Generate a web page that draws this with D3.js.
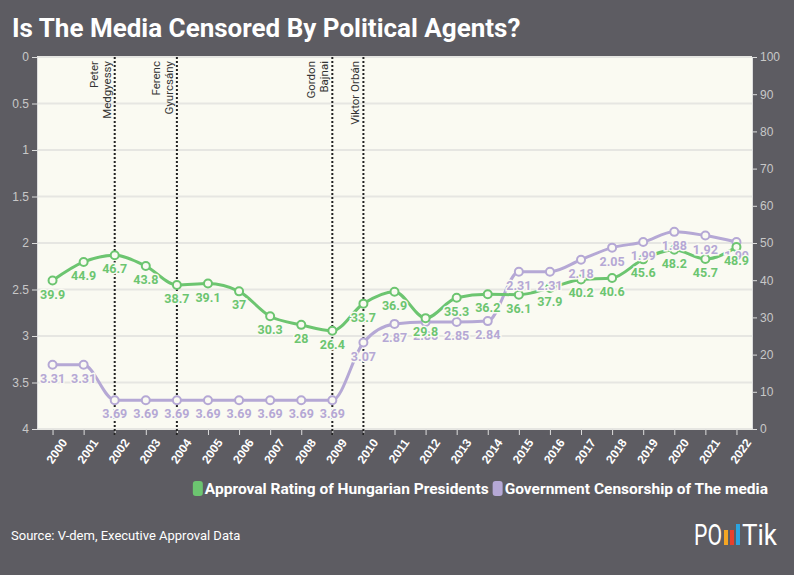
<!DOCTYPE html>
<html><head><meta charset="utf-8">
<script src="https://cdn.jsdelivr.net/npm/d3@7"></script>
<style>body{margin:0;background:#5d5c62;}svg{display:block;font-family:"Liberation Sans Narrow","Roboto","Open Sans",sans-serif;}</style>
</head><body><svg id="c" width="794" height="575"></svg>
<script>
const years = d3.range(2000, 2023).map(String);
const approval = [39.9,44.9,46.7,43.8,38.7,39.1,37,30.3,28,26.4,33.7,36.9,29.8,35.3,36.2,36.1,37.9,40.2,40.6,45.6,48.2,45.7,48.9];
const censorship = [3.31,3.31,3.69,3.69,3.69,3.69,3.69,3.69,3.69,3.69,3.07,2.87,2.85,2.85,2.84,2.31,2.31,2.18,2.05,1.99,1.88,1.92,1.99];
const leaders = [{year:"2002",name:["Peter","Medgyessy"]},{year:"2004",name:["Ferenc","Gyurcsány"]},{year:"2009",name:["Gordon","Bajnai"]},{year:"2010",name:["Viktor Orbán"]}];
const leftTicks = d3.range(0,4.01,0.5);
const rightTicks = d3.range(0,101,10);

const svg = d3.select("#c");
const L=37,R=752,T=57,B=429;
const green="#6cc570", purple="#b5a8d5";
svg.append("text").attr("x",12).attr("y",37).attr("fill","#fff").attr("font-size",26).attr("font-weight","bold").text("Is The Media Censored By Political Agents?");
svg.append("rect").attr("x",L).attr("y",T).attr("width",R-L).attr("height",B-T).attr("fill","#fafaf2");
const x = d3.scalePoint().domain(years).range([L,R]).padding(0.5);
const yL = d3.scaleLinear().domain([0,4]).range([T,B]);
const yR = d3.scaleLinear().domain([0,100]).range([B,T]);
svg.append("g").selectAll("line").data(leftTicks).join("line").attr("x1",L).attr("x2",R).attr("y1",d=>yL(d)).attr("y2",d=>yL(d)).attr("stroke","#e6e6e2").attr("stroke-width",2);
const ax = (g)=>{g.selectAll("text").attr("fill","#c8c8c8").attr("font-size",12);g.selectAll("line").attr("stroke","#ddd");g.select(".domain").attr("stroke","#ddd");};
svg.append("g").attr("transform",`translate(${L},0)`).call(d3.axisLeft(yL).tickValues(leftTicks).tickSize(5).tickFormat(d3.format("~g"))).call(ax);
svg.append("g").attr("transform",`translate(${R},0)`).call(d3.axisRight(yR).tickValues(rightTicks).tickSize(5)).call(ax);
const xa=svg.append("g").attr("transform",`translate(0,${B})`).call(d3.axisBottom(x).tickSize(6)).call(ax);
xa.select(".domain").remove();
xa.selectAll("text").attr("fill","#fff").attr("font-weight","bold").attr("font-size",12).attr("text-anchor","end").attr("transform","translate(4,6) rotate(-55)").attr("dy","0.35em");
const lg=svg.append("g");
leaders.forEach(l=>{
  const xx=x(l.year);
  lg.append("line").attr("x1",xx).attr("x2",xx).attr("y1",T).attr("y2",B+6).attr("stroke","#222").attr("stroke-width",2).attr("stroke-dasharray","2,2");
  const t=lg.append("text").attr("transform",`translate(${xx-4},${T+4}) rotate(-90)`).attr("text-anchor","end").attr("font-size",11.5).attr("fill","#333");
  const n=l.name.length;
  l.name.forEach((s,i)=>t.append("tspan").attr("x",0).attr("y",-(n-1-i)*13).text(s));
});
const line1=d3.line().x((d,i)=>x(years[i])).y(d=>yR(d)).curve(d3.curveMonotoneX);
const line2=d3.line().x((d,i)=>x(years[i])).y(d=>yL(d)).curve(d3.curveMonotoneX);
svg.append("path").attr("d",line2(censorship)).attr("fill","none").attr("stroke",purple).attr("stroke-width",3);
svg.append("path").attr("d",line1(approval)).attr("fill","none").attr("stroke",green).attr("stroke-width",3);
const pts=(data,y,c)=>svg.append("g").selectAll("circle").data(data).join("circle").attr("cx",(d,i)=>x(years[i])).attr("cy",d=>y(d)).attr("r",4).attr("fill","#fafaf2").attr("stroke",c).attr("stroke-width",2);
pts(censorship,yL,purple);pts(approval,yR,green);
const labs=(data,y,c)=>svg.append("g").selectAll("text").data(data).join("text").attr("x",(d,i)=>x(years[i])).attr("y",d=>y(d)+18).attr("text-anchor","middle").attr("font-size",12.5).attr("font-weight","bold").attr("fill",c).attr("stroke","#fafaf2").attr("stroke-width",3).attr("paint-order","stroke").text(d=>d);
labs(censorship,yL,purple);labs(approval,yR,green);
const leg=svg.append("g").attr("font-size",15.5).attr("font-weight","bold");
const items=[["Approval Rating of Hungarian Presidents",green],["Government Censorship of The media",purple]];
let lx=768;
for(let i=items.length-1;i>=0;i--){
  const t=leg.append("text").attr("x",lx).attr("y",494).attr("text-anchor","end").attr("fill","#fff").text(items[i][0]);
  const w=t.node().getComputedTextLength();
  leg.append("rect").attr("x",lx-w-12).attr("y",481).attr("width",10).attr("height",15).attr("rx",3).attr("fill",items[i][1]);
  lx=lx-w-16;
}
svg.append("text").attr("x",11).attr("y",540).attr("fill","#fff").attr("font-size",13).text("Source: V-dem, Executive Approval Data");
const logo=svg.append("g").attr("fill","#fff").attr("font-size",30);
logo.append("text").attr("x",694).attr("y",545).attr("textLength",28).attr("lengthAdjust","spacingAndGlyphs").text("PO");
[["#f5a623",724],["#e8412c",730],["#2aa4e0",736]].forEach(([c,xx],i)=>logo.append("rect").attr("x",xx).attr("y",i==2?524:530).attr("width",4).attr("height",i==2?21:15).attr("fill",c));
logo.append("text").attr("x",742).attr("y",545).attr("textLength",35).attr("lengthAdjust","spacingAndGlyphs").text("Tik");
</script></body></html>
